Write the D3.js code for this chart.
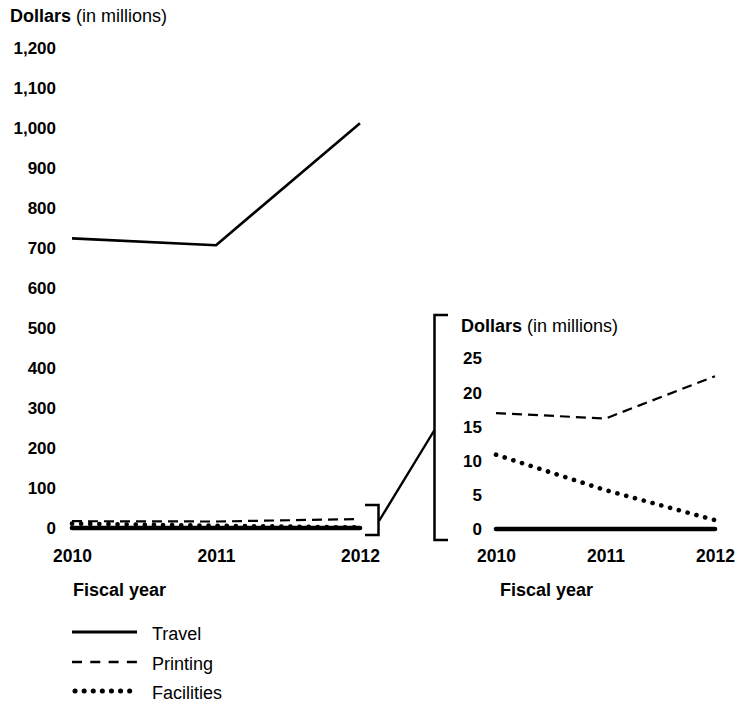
<!DOCTYPE html>
<html>
<head>
<meta charset="utf-8">
<script src="https://cdn.jsdelivr.net/npm/d3@7"></script>
<style>
  html, body { margin: 0; padding: 0; background: #fff; }
  svg { display: block; font-family: "Liberation Sans", Arial, sans-serif; }
</style>
</head>
<body>
<svg id="chart" width="739" height="704"></svg>
<script>
// ---- data ----
const years = [2010, 2011, 2012];
const travel = [724, 707, 1012];
const printing = [17, 16.2, 22.4];
const facilities = [10.9, 5.7, 1.3];
const mainTicks = [0, 100, 200, 300, 400, 500, 600, 700, 800, 900, 1000, 1100, 1200];
const insetTicks = [0, 5, 10, 15, 20, 25];
const legendItems = ["Travel", "Printing", "Facilities"];

const svg = d3.select("#chart");
const ink = "#000";

const styles = {
  Travel: { width: 2.6, dash: null, cap: "butt" },
  Printing: { width: 2.2, dash: "10 6", cap: "butt" },
  Facilities: { width: 4.6, dash: "0.1 9", cap: "round" }
};

function drawPanel(cfg) {
  const x = d3.scaleLinear().domain([2010, 2012]).range(cfg.xRange);
  const y = d3.scaleLinear().domain(cfg.yDomain).range(cfg.yRange);
  const g = svg.append("g");

  // y axis labels
  const ya = g.append("g")
    .attr("transform", `translate(${cfg.yLabelX},0)`)
    .call(d3.axisLeft(y).tickValues(cfg.ticks).tickSize(0).tickPadding(0).tickFormat(d3.format(",")));
  ya.select(".domain").remove();
  ya.selectAll("text").attr("font-size", 17).attr("font-weight", "bold").attr("fill", ink)
    .attr("font-family", "Liberation Sans, Arial, sans-serif");

  // x axis labels
  const xa = g.append("g")
    .attr("transform", `translate(0,${cfg.xLabelY})`)
    .call(d3.axisBottom(x).tickValues(years).tickSize(0).tickPadding(0).tickFormat(d3.format("d")));
  xa.select(".domain").remove();
  xa.selectAll("text").attr("font-size", 17.5).attr("font-weight", "bold").attr("fill", ink)
    .attr("font-family", "Liberation Sans, Arial, sans-serif");

  // title
  const t = g.append("text").attr("x", cfg.titleX).attr("y", cfg.titleY).attr("font-size", 18).attr("fill", ink);
  t.append("tspan").attr("font-weight", "bold").text("Dollars");
  t.append("tspan").text(" (in millions)");

  g.append("text").attr("x", cfg.fyX).attr("y", 596).attr("font-size", 18)
    .attr("font-weight", "bold").attr("fill", ink).text("Fiscal year");

  const line = d3.line().x((d, i) => x(years[i])).y(d => y(d));

  cfg.series.forEach(s => {
    const st = styles[s.name];
    g.append("path").datum(s.values).attr("d", line)
      .attr("fill", "none").attr("stroke", ink)
      .attr("stroke-width", st.width)
      .attr("stroke-dasharray", st.dash)
      .attr("stroke-linecap", st.cap)
      .attr("stroke-linejoin", "round");
  });

  // thick baseline
  g.append("line").attr("x1", x(2010)).attr("x2", x(2012))
    .attr("y1", y(0)).attr("y2", y(0))
    .attr("stroke", ink).attr("stroke-width", 4.6).attr("stroke-linecap", "round");
  return { x, y };
}

drawPanel({
  xRange: [72, 360], yDomain: [0, 1200], yRange: [528, 48], ticks: mainTicks,
  yLabelX: 56, xLabelY: 550, titleX: 10, titleY: 22, fyX: 73,
  series: [
    { name: "Travel", values: travel },
    { name: "Printing", values: printing },
    { name: "Facilities", values: facilities }
  ]
});

drawPanel({
  xRange: [496, 715], yDomain: [0, 25], yRange: [529, 358.5], ticks: insetTicks,
  yLabelX: 482, xLabelY: 550, titleX: 461, titleY: 332, fyX: 500,
  series: [
    { name: "Printing", values: printing },
    { name: "Facilities", values: facilities }
  ]
});

// brackets and connector
svg.append("path").attr("d", "M365,505 H378.5 V535 H365")
  .attr("fill", "none").attr("stroke", ink).attr("stroke-width", 2.5);
svg.append("path").attr("d", "M448,315 H434.5 V540 H448")
  .attr("fill", "none").attr("stroke", ink).attr("stroke-width", 2.5);
svg.append("line").attr("x1", 379).attr("y1", 521).attr("x2", 434.5).attr("y2", 430)
  .attr("stroke", ink).attr("stroke-width", 2.4);

// legend
const lg = svg.append("g");
const legendY = [632, 662, 691];
legendItems.forEach((name, i) => {
  const st = styles[name];
  lg.append("line").attr("x1", name === "Facilities" ? 75 : 72).attr("x2", 137)
    .attr("y1", legendY[i]).attr("y2", legendY[i])
    .attr("stroke", ink)
    .attr("stroke-width", name === "Facilities" ? 5 : (name === "Printing" ? 2.4 : 2.8))
    .attr("stroke-dasharray", name === "Printing" ? "10 8.3" : st.dash)
    .attr("stroke-linecap", st.cap);
  lg.append("text").attr("x", 152).attr("y", legendY[i] + 7.5)
    .attr("font-size", 18).attr("fill", ink).text(name);
});
</script>
</body>
</html>
